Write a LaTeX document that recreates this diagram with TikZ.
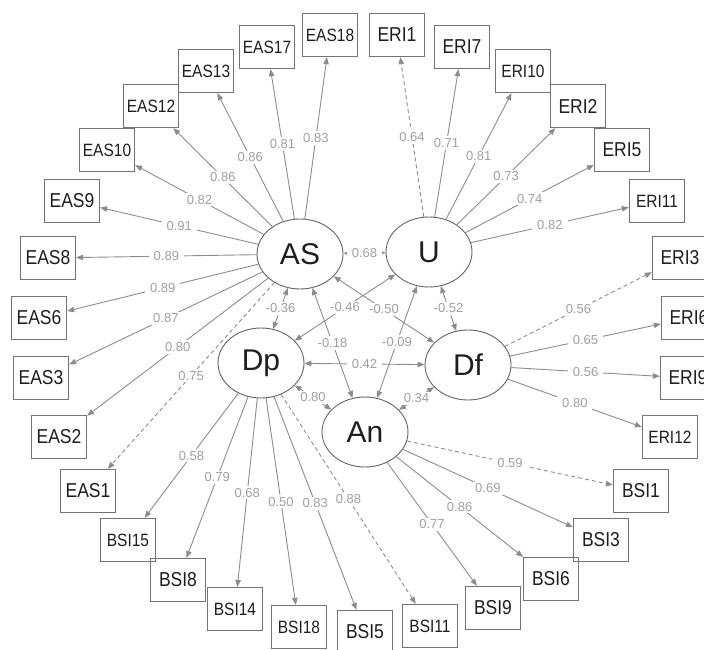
\documentclass[tikz,border=0pt]{standalone}
\usepackage{fontspec}
\usepackage{graphicx}
\setmainfont{Liberation Sans}
\usetikzlibrary{arrows.meta,shapes.geometric}
\definecolor{edgec}{RGB}{140,140,140}
\definecolor{labc}{RGB}{160,160,160}
\definecolor{boxc}{RGB}{115,115,115}
\definecolor{ellc}{RGB}{100,100,100}
\definecolor{txtc}{RGB}{30,30,30}
\newcommand\vstr[1]{\scalebox{1}[1.15]{#1}}
\begin{document}
\begin{tikzpicture}[x=1pt,y=-1pt,
 obs/.style={draw=boxc, line width=1.3pt, minimum width=55pt, minimum height=43pt, inner sep=0pt, text=txtc, font=\fontsize{17.5}{17.5}\selectfont},
 obsf/.style={obs, font=\fontsize{15.5}{15.5}\selectfont},
 lat/.style={draw=ellc, ellipse, line width=0.9pt, minimum width=86pt, minimum height=70pt, inner sep=0pt, text=txtc, font=\fontsize{30}{30}\selectfont},
 load/.style={draw=edgec, line width=0.9pt, -{Triangle[length=7pt,width=5.5pt]}},
 cov/.style={draw=edgec, line width=0.9pt, {Triangle[length=7pt,width=5.5pt]}-{Triangle[length=7pt,width=5.5pt]}},
 dsh/.style={dash pattern=on 4pt off 3pt},
 lab/.style={fill=white, text=labc, inner xsep=5pt, inner ysep=2pt, font=\fontsize{13}{13}\selectfont, midway}
]
\useasboundingbox (0,0) rectangle (704,650);
% latent variables
\node[lat] (AS) at (300,254) {AS};
\node[lat] (U)  at (429,252) {U};
\node[lat] (Dp) at (261,363) {Dp};
\node[lat] (Df) at (468,365) {Df};
\node[lat] (An) at (365,432) {An};
% observed variables
\node[obsf] (EAS18) at (330,35) {\vstr{EAS18}};
\node[obsf] (EAS17) at (267,47) {\vstr{EAS17}};
\node[obsf] (EAS13) at (206,71) {\vstr{EAS13}};
\node[obsf] (EAS12) at (151,106) {\vstr{EAS12}};
\node[obsf] (EAS10) at (107,150) {\vstr{EAS10}};
\node[obs] (EAS9) at (72,201) {\vstr{EAS9}};
\node[obs] (EAS8) at (48,258) {\vstr{EAS8}};
\node[obs] (EAS6) at (39,318) {\vstr{EAS6}};
\node[obs] (EAS3) at (41,378) {\vstr{EAS3}};
\node[obs] (EAS2) at (59,437) {\vstr{EAS2}};
\node[obs] (EAS1) at (88,491) {\vstr{EAS1}};
\node[obsf] (BSI15) at (128,540) {\vstr{BSI15}};
\node[obs] (BSI8) at (178,580) {\vstr{BSI8}};
\node[obsf] (BSI14) at (235,609) {\vstr{BSI14}};
\node[obsf] (BSI18) at (299,627) {\vstr{BSI18}};
\node[obs] (BSI5) at (365,632) {\vstr{BSI5}};
\node[obsf] (BSI11) at (430,626) {\vstr{BSI11}};
\node[obs] (BSI9) at (493,608) {\vstr{BSI9}};
\node[obs] (BSI6) at (551,579) {\vstr{BSI6}};
\node[obs] (BSI3) at (601,540) {\vstr{BSI3}};
\node[obs] (BSI1) at (641,491) {\vstr{BSI1}};
\node[obsf] (ERI12) at (670,437) {\vstr{ERI12}};
\node[obs] (ERI9) at (688,378) {\vstr{ERI9}};
\node[obs] (ERI6) at (689,318) {\vstr{ERI6}};
\node[obs] (ERI3) at (680,258) {\vstr{ERI3}};
\node[obsf] (ERI11) at (657,201) {\vstr{ERI11}};
\node[obs] (ERI5) at (622,150) {\vstr{ERI5}};
\node[obs] (ERI2) at (578,106) {\vstr{ERI2}};
\node[obsf] (ERI10) at (523,71) {\vstr{ERI10}};
\node[obs] (ERI7) at (462,47) {\vstr{ERI7}};
\node[obs] (ERI1) at (397,35) {\vstr{ERI1}};
% loadings AS
\draw[load] (AS) -- node[lab]{0.83} (EAS18);
\draw[load] (AS) -- node[lab]{0.81} (EAS17);
\draw[load] (AS) -- node[lab]{0.86} (EAS13);
\draw[load] (AS) -- node[lab]{0.86} (EAS12);
\draw[load] (AS) -- node[lab]{0.82} (EAS10);
\draw[load] (AS) -- node[lab]{0.91} (EAS9);
\draw[load] (AS) -- node[lab]{0.89} (EAS8);
\draw[load] (AS) -- node[lab]{0.89} (EAS6);
\draw[load] (AS) -- node[lab]{0.87} (EAS3);
\draw[load] (AS) -- node[lab]{0.80} (EAS2);
\draw[load,dsh] (AS) -- node[lab]{0.75} (EAS1);
% loadings U
\draw[load,dsh] (U) -- node[lab]{0.64} (ERI1);
\draw[load] (U) -- node[lab]{0.71} (ERI7);
\draw[load] (U) -- node[lab]{0.81} (ERI10);
\draw[load] (U) -- node[lab]{0.73} (ERI2);
\draw[load] (U) -- node[lab]{0.74} (ERI5);
\draw[load] (U) -- node[lab]{0.82} (ERI11);
% loadings Df
\draw[load,dsh] (Df) -- node[lab]{0.56} (ERI3);
\draw[load] (Df) -- node[lab]{0.65} (ERI6);
\draw[load] (Df) -- node[lab]{0.56} (ERI9);
\draw[load] (Df) -- node[lab]{0.80} (ERI12);
% loadings An
\draw[load,dsh] (An) -- node[lab]{0.59} (BSI1);
\draw[load] (An) -- node[lab]{0.69} (BSI3);
\draw[load] (An) -- node[lab]{0.86} (BSI6);
\draw[load] (An) -- node[lab]{0.77} (BSI9);
% loadings Dp
\draw[load] (Dp) -- node[lab]{0.58} (BSI15);
\draw[load] (Dp) -- node[lab]{0.79} (BSI8);
\draw[load] (Dp) -- node[lab]{0.68} (BSI14);
\draw[load] (Dp) -- node[lab]{0.50} (BSI18);
\draw[load] (Dp) -- node[lab]{0.83} (BSI5);
\draw[load,dsh] (Dp) -- node[lab]{0.88} (BSI11);
% covariances
\draw[cov] (AS) -- node[lab]{0.68} (U);
\draw[cov] (AS) -- node[lab]{-0.36} (Dp);
\draw[cov] (AS) -- node[lab]{-0.50} (Df);
\draw[cov] (U) -- node[lab]{-0.46} (Dp);
\draw[cov] (U) -- node[lab]{-0.52} (Df);
\draw[cov] (AS) -- node[lab]{-0.18} (An);
\draw[cov] (U) -- node[lab]{-0.09} (An);
\draw[cov] (Dp) -- node[lab]{0.42} (Df);
\draw[cov] (Dp) -- node[lab]{0.80} (An);
\draw[cov] (Df) -- node[lab]{0.34} (An);
\end{tikzpicture}
\end{document}
